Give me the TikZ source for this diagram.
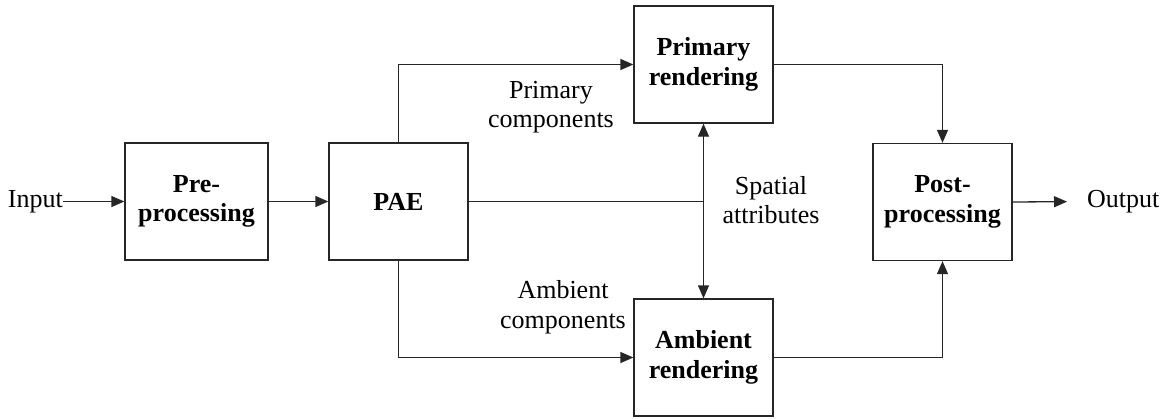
\documentclass[tikz,border=0pt]{standalone}
\usepackage{fontspec}
\setmainfont{Liberation Serif}
\usetikzlibrary{arrows.meta}

\begin{document}
\begin{tikzpicture}[x=1pt,y=-1pt,
  blk/.style={draw=black!85, line width=1.3pt, minimum width=139pt, minimum height=117pt,
    inner sep=0pt, align=center, font=\fontsize{26}{29.5}\selectfont\bfseries},
  lbl/.style={align=center, inner sep=0pt, font=\fontsize{26}{29.5}\selectfont},
  link/.style={draw=black!85, line width=1.3pt, -{Triangle[length=13pt,width=11pt]}},
  wire/.style={draw=black!85, line width=1.3pt},
  ]
\useasboundingbox (0,0) rectangle (1166,418);

% processing blocks
\node[blk, minimum width=143pt] (pre)  at (196.5,201.5) {Pre-\\processing};
\node[blk] (pae)  at (398.5,201.5) {PAE};
\node[blk] (pri)  at (703.5,64.5)  {Primary\\rendering};
\node[blk] (amb)  at (703.5,357.5) {Ambient\\rendering};
\node[blk] (post) at (942.5,202)   {Post-\\processing};

% terminal labels
\node[lbl, anchor=east] (in)  at (63,201.5)  {Input};
\node[lbl, anchor=west] (out) at (1087,201.5) {Output};

% signal labels
\node[lbl] (lpc) at (551,107) {Primary\\components};
\node[lbl] (lac) at (563,307) {Ambient\\components};
\node[lbl] (lsa) at (771,200) {Spatial\\attributes};

% main signal path
\draw[link] (in.east) -- (pre.west);
\draw[link] (pre.east) -- (pae.west);
\draw[link] (pae.north) |- (pri.west);
\draw[link] (pae.south) |- (amb.west);
\draw[link] (pri.east) -| (post.north);
\draw[link] (amb.east) -| (post.south);
\draw[link, shorten >=20pt] (post.east) -- (out.west);

% spatial attributes feed both renderers
\coordinate (sj) at (pri.south |- pae.east);
\draw[wire] (pae.east) -- (sj);
\draw[link] (sj) -- (pri.south);
\draw[link] (sj) -- (amb.north);
\end{tikzpicture}
\end{document}
